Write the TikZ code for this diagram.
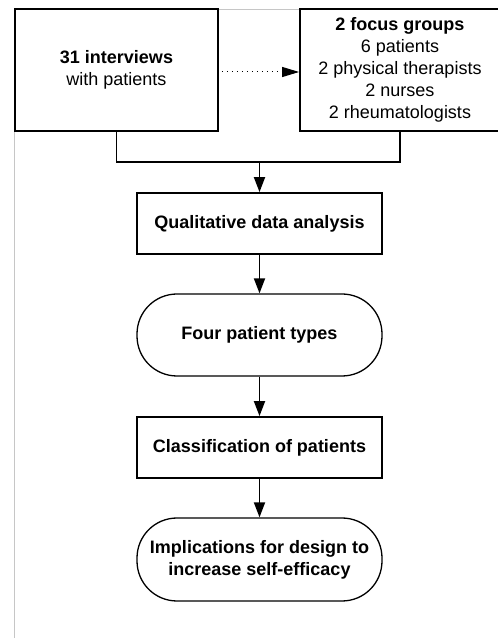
\documentclass[tikz,border=0pt]{standalone}
\usepackage{fontspec}
\setmainfont{Liberation Sans}
\usetikzlibrary{arrows.meta}
\begin{document}
\begin{tikzpicture}[x=1pt,y=1pt,
  box/.style={draw=black,line width=1.8pt,rectangle,align=center,inner sep=0pt,
    font=\fontsize{18}{22}\selectfont},
  pill/.style={box,line width=1.3pt,rounded corners=#1},
  conn/.style={line width=1.8pt,-{Triangle[length=15pt,width=11pt]}},
  plain/.style={line width=1.8pt}]
\useasboundingbox (0,0) rectangle (498,638);
\draw[gray!45,line width=0.8pt] (14,0) -- (14,629) -- (300,629);
\node[box,minimum width=203pt,minimum height=122pt] (iv) at (116.5,568) {\textbf{31 interviews}\\with patients};
\node[box,minimum width=200pt,minimum height=122pt] (fg) at (400,568) {\textbf{2 focus groups}\\6 patients\\2 physical therapists\\2 nurses\\2 rheumatologists};
\node[box,minimum width=245pt,minimum height=61pt] (qa) at (259.5,414.5) {\textbf{Qualitative data analysis}};
\node[pill=40pt,minimum width=245pt,minimum height=82pt] (pt) at (259.5,303) {\textbf{Four patient types}};
\node[box,minimum width=245pt,minimum height=61pt] (cl) at (259.5,190.5) {\textbf{Classification of patients}};
\node[pill=40pt,minimum width=245pt,minimum height=83pt] (im) at (259.5,78.5) {\textbf{Implications for design to}\\\textbf{increase self-efficacy}};
\coordinate (ja) at (iv.south |- 0,476);
\coordinate (jb) at (fg.south |- 0,476);
\coordinate (jm) at (qa.north |- 0,476);
\draw[line width=1pt,dash pattern=on 1pt off 4pt,-{Triangle[length=17pt,width=10pt]}] ([xshift=3pt]iv.east |- 0,566) -- (fg.west |- 0,566);
\draw[plain] (iv.south) -- (ja) -- (jb) -- (fg.south);
\draw[conn] (jm) -- (qa.north);
\draw[conn] (qa) -- (pt);
\draw[conn] (pt) -- (cl);
\draw[conn] (cl) -- (im);
\end{tikzpicture}
\end{document}
